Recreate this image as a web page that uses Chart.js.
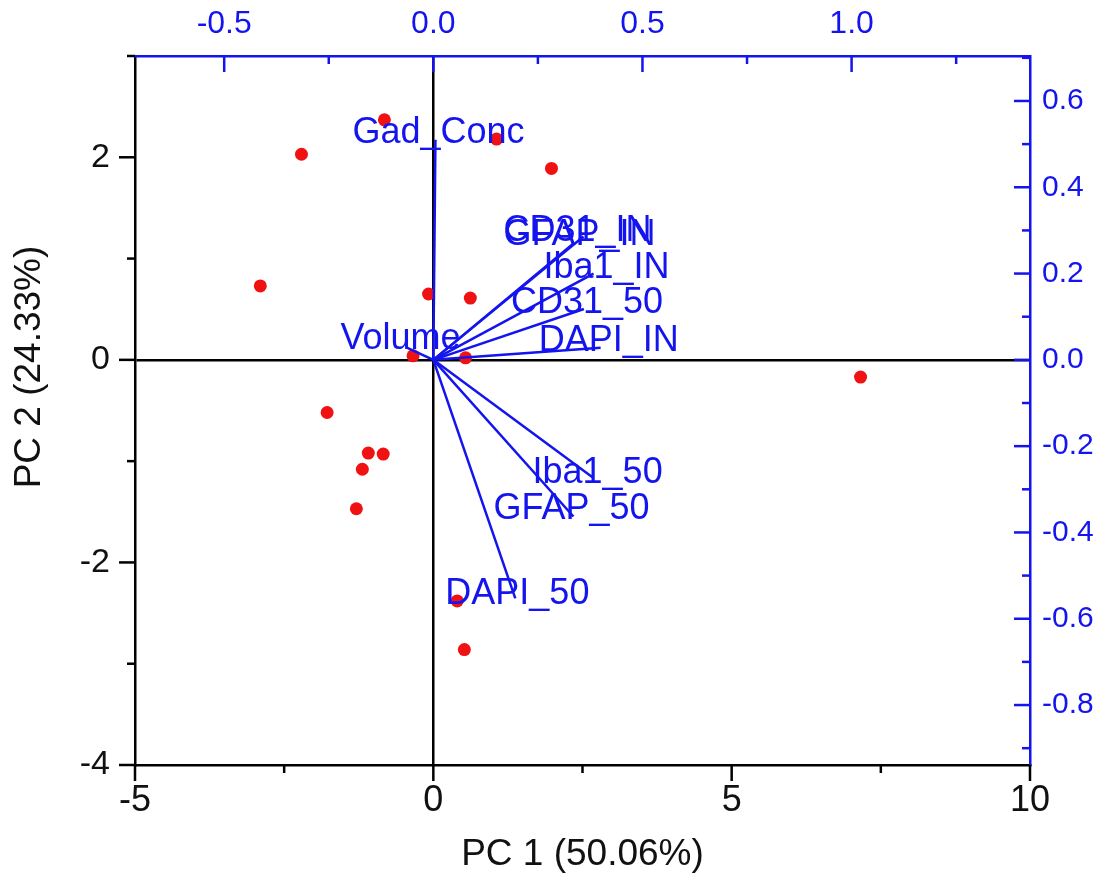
<!DOCTYPE html>
<html>
<head>
<meta charset="utf-8">
<script src="https://cdn.jsdelivr.net/npm/chart.js@4.4.0/dist/chart.umd.min.js"></script>
<style>
    html, body { margin: 0; padding: 0; background: #fff; }
</style>
</head>
<body>
<canvas id="chart" width="1102" height="877"></canvas>
<script>
// sample scores
var scorePC1 = [-0.82, -2.21, 1.06, 1.98, -2.90, -0.08, 0.62, -0.34, 0.54, 7.16, -1.78, -1.09, -0.84, -1.19, -1.29, 0.40, 0.52];
var scorePC2 = [2.37, 2.03, 2.18, 1.89, 0.73, 0.65, 0.61, 0.04, 0.02, -0.17, -0.52, -0.92, -0.93, -1.08, -1.47, -2.38, -2.86];

// variable loadings
var loadingNames = ['Gad_Conc', 'CD31_IN', 'GFAP_IN', 'Iba1_IN', 'CD31_50', 'DAPI_IN', 'Volume', 'Iba1_50', 'GFAP_50', 'DAPI_50'];
var loadingPC1 = [0.005, 0.359, 0.335, 0.383, 0.360, 0.400, -0.062, 0.383, 0.335, 0.196];
var loadingPC2 = [0.51, 0.286, 0.270, 0.200, 0.118, 0.028, 0.028, -0.274, -0.363, -0.553];

// tick labels
var ticksPC1 = [-5, 0, 5, 10];
var ticksPC2 = [-4, -2, 0, 2];
var ticksLoad1 = [-0.5, 0.0, 0.5, 1.0];
var ticksLoad2 = [-0.8, -0.6, -0.4, -0.2, 0.0, 0.2, 0.4, 0.6];

var blue = '#1414ee';
var font = "'Liberation Sans', Arial, sans-serif";

// where each loading label sits relative to the end of its arrow (px)
var labelOffset = {
    'Gad_Conc': [-83, -7],
    'CD31_IN': [-80, -5],
    'GFAP_IN': [-70, -8],
    'Iba1_IN': [-50, -5],
    'CD31_50': [-73, -6],
    'DAPI_IN': [-62, -7],
    'Volume': [-67, -9],
    'Iba1_50': [-61, -5],
    'GFAP_50': [-80, -7],
    'DAPI_50': [-70, -4]
};

var datasets = [];
for (var i = 0; i < loadingNames.length; i++) {
    datasets.push({
        type: 'line',
        label: loadingNames[i],
        data: [{x: 0, y: 0}, {x: loadingPC1[i], y: loadingPC2[i]}],
        xAxisID: 'x2',
        yAxisID: 'y2',
        borderColor: blue,
        borderWidth: 2.5,
        pointRadius: 0,
        fill: false,
        order: 0
    });
}
var points = [];
for (var j = 0; j < scorePC1.length; j++) {
    points.push({x: scorePC1[j], y: scorePC2[j]});
}
datasets.push({
    type: 'scatter',
    label: 'scores',
    data: points,
    xAxisID: 'x',
    yAxisID: 'y',
    pointRadius: 6.5,
    pointBackgroundColor: 'rgb(240,18,18)',
    pointBorderWidth: 0,
    order: 1
});

// small and big tick marks on all four sides
var tickMarks = {
    id: 'tickMarks',
    afterDraw: function(chart) {
        var ctx = chart.ctx;
        var area = chart.chartArea;
        var axes = [
            {id: 'x', step: 2.5, major: 5, color: '#000', edge: area.bottom, dir: 1, hor: true},
            {id: 'x2', step: 0.25, major: 0.5, color: blue, edge: area.top, dir: 1, hor: true},
            {id: 'y', step: 1, major: 2, color: '#000', edge: area.left, dir: -1, hor: false},
            {id: 'y2', step: 0.1, major: 0.2, color: blue, edge: area.right, dir: -1, hor: false}
        ];
        ctx.save();
        ctx.lineWidth = 2.5;
        axes.forEach(function(a) {
            var scale = chart.scales[a.id];
            var k0 = Math.ceil(scale.min / a.step - 1e-6);
            var k1 = Math.floor(scale.max / a.step + 1e-6);
            ctx.strokeStyle = a.color;
            for (var k = k0; k <= k1; k++) {
                var v = k * a.step;
                var r = v / a.major;
                var len = Math.abs(r - Math.round(r)) < 1e-6 ? 16 : 8;
                var p = scale.getPixelForValue(v);
                ctx.beginPath();
                if (a.hor) {
                    ctx.moveTo(p, a.edge);
                    ctx.lineTo(p, a.edge + a.dir * len);
                } else {
                    ctx.moveTo(a.edge, p);
                    ctx.lineTo(a.edge + a.dir * len, p);
                }
                ctx.stroke();
            }
        });
        // left axis title
        ctx.translate(30, 367);
        ctx.rotate(-Math.PI / 2);
        ctx.fillStyle = '#111';
        ctx.font = '37px ' + font;
        ctx.textAlign = 'center';
        ctx.textBaseline = 'middle';
        ctx.fillText('PC 2 (24.33%)', 0, 0);
        ctx.restore();
    }
};

var loadingLabels = {
    id: 'loadingLabels',
    afterDatasetsDraw: function(chart) {
        var ctx = chart.ctx;
        var sx = chart.scales.x2;
        var sy = chart.scales.y2;
        ctx.save();
        ctx.font = '36px ' + font;
        ctx.fillStyle = blue;
        ctx.textAlign = 'left';
        ctx.textBaseline = 'middle';
        for (var i = 0; i < loadingNames.length; i++) {
            var off = labelOffset[loadingNames[i]];
            ctx.fillText(loadingNames[i],
                sx.getPixelForValue(loadingPC1[i]) + off[0],
                sy.getPixelForValue(loadingPC2[i]) + off[1]);
        }
        ctx.restore();
    }
};

function zeroLine(c) {
    return c.tick && c.tick.value === 0 ? '#000' : 'rgba(0,0,0,0)';
}

var ctx = document.getElementById('chart').getContext('2d');
var myChart = new Chart(ctx, {
    data: {datasets: datasets},
    plugins: [tickMarks, loadingLabels],
    options: {
        responsive: false,
        animation: false,
        layout: {padding: 0},
        plugins: {
            legend: {display: false},
            tooltip: {enabled: false}
        },
        scales: {
            x: {
                type: 'linear',
                position: 'bottom',
                min: -5,
                max: 10,
                afterBuildTicks: function(s) { s.ticks = ticksPC1.map(function(v) { return {value: v}; }); },
                afterFit: function(s) { s.height = 112; },
                ticks: {color: '#111', font: {size: 36, family: font}, padding: 14, maxRotation: 0},
                grid: {color: zeroLine, lineWidth: 2.5, drawTicks: false},
                border: {color: '#000', width: 2.5},
                title: {display: true, text: 'PC 1 (50.06%)', color: '#111', font: {size: 37, family: font}, padding: {top: 2, bottom: 0}}
            },
            y: {
                type: 'linear',
                position: 'left',
                min: -4,
                max: 3,
                afterBuildTicks: function(s) { s.ticks = ticksPC2.map(function(v) { return {value: v}; }); },
                afterFit: function(s) { s.width = 135; },
                ticks: {color: '#111', font: {size: 34, family: font}, padding: 25},
                grid: {color: zeroLine, lineWidth: 2.5, drawTicks: false},
                border: {color: '#000', width: 2.5}
            },
            x2: {
                type: 'linear',
                position: 'top',
                min: -5 / 7.01,
                max: 10 / 7.01,
                afterBuildTicks: function(s) { s.ticks = ticksLoad1.map(function(v) { return {value: v}; }); },
                afterFit: function(s) { s.height = 56; },
                ticks: {color: blue, font: {size: 32, family: font}, padding: 13, maxRotation: 0,
                    callback: function(v) { return v.toFixed(1); }},
                grid: {display: false, drawTicks: false},
                border: {color: blue, width: 2.5}
            },
            y2: {
                type: 'linear',
                position: 'right',
                min: -4 / 4.26,
                max: 3 / 4.26,
                afterBuildTicks: function(s) { s.ticks = ticksLoad2.map(function(v) { return {value: v}; }); },
                afterFit: function(s) { s.width = 72; },
                ticks: {color: blue, font: {size: 30, family: font}, padding: 12,
                    callback: function(v) { return v.toFixed(1); }},
                grid: {display: false, drawTicks: false},
                border: {color: blue, width: 2.5}
            }
        }
    }
});
</script>
</body>
</html>
